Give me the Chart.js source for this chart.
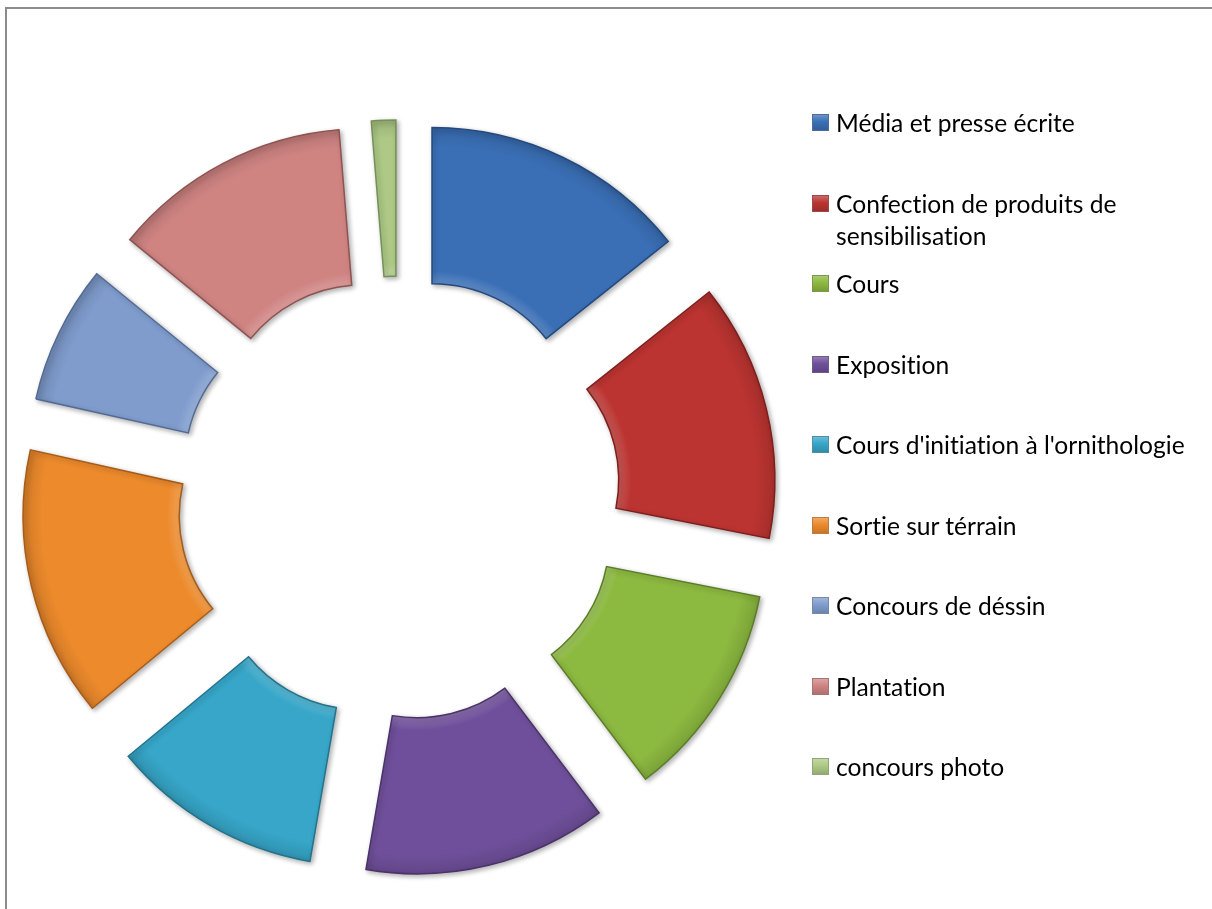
<!DOCTYPE html>
<html>
<head>
<meta charset="utf-8">
<script src="https://cdn.jsdelivr.net/npm/chart.js@4.4.1/dist/chart.umd.min.js"></script>
<style>
  html, body { margin: 0; padding: 0; background: #fff; overflow: hidden; }
  #wrap { position: relative; width: 1212px; height: 909px; }
  #cadre { position: absolute; left: 5px; top: 7px; width: 1400px; height: 1100px;
           border-left: 2px solid #8c8c8c; border-top: 2px solid #8c8c8c; }
  canvas { position: absolute; left: 0; top: 0; }
  #legende { position: absolute; left: 0; top: 0; font-family: Lato, "Open Sans", sans-serif;
             font-size: 24.6px; color: #000; font-variant-ligatures: none; }
  .item { position: absolute; left: 812px; white-space: nowrap; line-height: 32px; }
  .item .carre { position: absolute; left: 0; top: 7px; width: 17px; height: 17px; box-sizing: border-box; }
  .item .txt { position: absolute; left: 24px; top: 0; }
</style>
</head>
<body>
<div id="wrap">
  <div id="cadre"></div>
  <canvas id="myChart" width="1212" height="909"></canvas>
  <div id="legende"></div>
</div>
<script>
// Données (parts en %)
const categories = [
    "Média et presse écrite",
    ["Confection de produits de", "sensibilisation"],
    "Cours",
    "Exposition",
    "Cours d'initiation à l'ornithologie",
    "Sortie sur térrain",
    "Concours de déssin",
    "Plantation",
    "concours photo"
];
const valeurs = [14.3, 13.8, 11.6, 13.0, 11.3, 14.5, 7.4, 12.8, 1.3];
const couleurs = ["#3a6fb6", "#bb3431", "#8cb940", "#6f4f9b", "#37a6c8", "#ec8a2c", "#7f9ccd", "#cf8482", "#adc985"];
const bordures = ["#24497e", "#7e1f1d", "#5b7d26", "#4a3368", "#22738c", "#a85c17", "#536b94", "#8f5351", "#76905a"];

const ecartExplosion = 76; // décalage des parts vers l'extérieur

function eclaircir(hex, f) {
    const n = parseInt(hex.slice(1), 16);
    let r = (n >> 16) & 255, g = (n >> 8) & 255, b = n & 255;
    r = Math.round(r + (255 - r) * f); g = Math.round(g + (255 - g) * f); b = Math.round(b + (255 - b) * f);
    return `rgb(${r},${g},${b})`;
}
function assombrir(hex, f) {
    const n = parseInt(hex.slice(1), 16);
    let r = (n >> 16) & 255, g = (n >> 8) & 255, b = n & 255;
    return `rgb(${Math.round(r * (1 - f))},${Math.round(g * (1 - f))},${Math.round(b * (1 - f))})`;
}

// Dessine chaque part décalée le long de son angle médian (effet "anneau éclaté")
const pluginEclate = {
    id: 'eclate',
    beforeDatasetDraw(chart, args) {
        const ctx = chart.ctx;
        args.meta.data.forEach(arc => {
            const milieu = (arc.startAngle + arc.endAngle) / 2;
            ctx.save();
            ctx.translate(Math.cos(milieu) * ecartExplosion, Math.sin(milieu) * ecartExplosion);
            ctx.shadowColor = 'rgba(0,0,0,0.30)';
            ctx.shadowBlur = 5;
            ctx.shadowOffsetX = 2;
            ctx.shadowOffsetY = 2;
            arc.draw(ctx, chart.chartArea);
            ctx.restore();
        });
        return false;
    }
};

const ctx = document.getElementById("myChart").getContext("2d");
const chart = new Chart(ctx, {
    type: 'doughnut',
    data: {
        labels: categories,
        datasets: [{
            data: valeurs,
            backgroundColor: function (c) {
                const base = couleurs[c.dataIndex];
                const area = c.chart.chartArea;
                if (!area) return base;
                const cx = (area.left + area.right) / 2;
                const cy = (area.top + area.bottom) / 2;
                const g = c.chart.ctx.createRadialGradient(cx, cy, 146, cx, cy, 302);
                g.addColorStop(0, eclaircir(base, 0.18));
                g.addColorStop(0.08, base);
                g.addColorStop(0.88, base);
                g.addColorStop(1, assombrir(base, 0.12));
                return g;
            },
            borderColor: bordures,
            borderWidth: 1.5,
            hoverBorderWidth: 1.5,
            borderJoinStyle: 'miter'
        }]
    },
    options: {
        responsive: false,
        animation: false,
        devicePixelRatio: 1,
        radius: 302,
        cutout: '48.3%',
        layout: {
            padding: { left: 0, right: 414, top: 87, bottom: 0 }
        },
        plugins: {
            legend: { display: false },
            tooltip: { enabled: false }
        }
    },
    plugins: [pluginEclate]
});

// Légende à droite
const legende = document.getElementById("legende");
categories.forEach((cat, i) => {
    const centre = 123 + i * 80.5;
    const item = document.createElement("div");
    item.className = "item";
    item.style.top = (centre - 16) + "px";
    const carre = document.createElement("div");
    carre.className = "carre";
    carre.style.background = `linear-gradient(180deg, ${eclaircir(couleurs[i], 0.25)} 0%, ${couleurs[i]} 45%, ${assombrir(couleurs[i], 0.15)} 100%)`;
    carre.style.border = `1px solid ${eclaircir(bordures[i], 0.2)}`;
    const txt = document.createElement("div");
    txt.className = "txt";
    txt.innerHTML = Array.isArray(cat) ? cat.join("<br>") : cat;
    item.appendChild(carre);
    item.appendChild(txt);
    legende.appendChild(item);
});
</script>
</body>
</html>
